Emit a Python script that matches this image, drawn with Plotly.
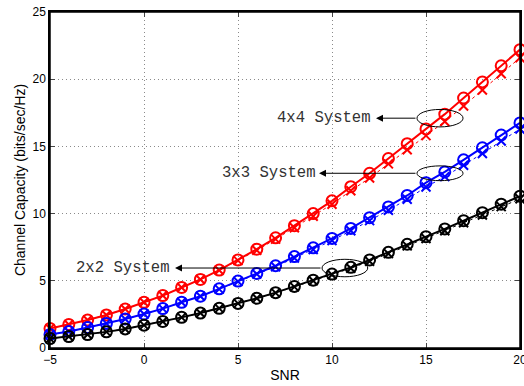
import plotly.graph_objects as go

snr = list(range(-5, 21))

cap_4x4 = [1.45, 1.75, 2.08, 2.46, 2.9, 3.4, 3.9, 4.5, 5.1, 5.8, 6.55, 7.35, 8.2, 9.1, 10.0,
           10.95, 12.0, 13.0, 14.1, 15.2, 16.3, 17.4, 18.6, 19.8, 21.0, 22.2]
cap_4x4_b = [1.45, 1.75, 2.08, 2.46, 2.9, 3.4, 3.9, 4.5, 5.1, 5.78, 6.5, 7.27, 8.1, 8.95, 9.8,
             10.7, 11.7, 12.65, 13.7, 14.75, 15.8, 16.85, 18.0, 19.2, 20.4, 21.6]
cap_3x3 = [1.0, 1.22, 1.52, 1.83, 2.16, 2.53, 2.93, 3.4, 3.85, 4.4, 4.98, 5.55, 6.12, 6.8, 7.45,
           8.15, 8.9, 9.7, 10.5, 11.35, 12.3, 13.1, 14.0, 14.9, 15.85, 16.75]
cap_3x3_b = [1.0, 1.22, 1.52, 1.83, 2.16, 2.53, 2.93, 3.4, 3.85, 4.38, 4.95, 5.5, 6.05, 6.7, 7.33,
             8.0, 8.72, 9.48, 10.25, 11.07, 11.98, 12.75, 13.6, 14.47, 15.4, 16.3]
cap_2x2 = [0.7, 0.85, 1.0, 1.2, 1.42, 1.7, 1.97, 2.28, 2.6, 2.95, 3.32, 3.7, 4.12, 4.58, 5.05,
           5.5, 6.0, 6.55, 7.12, 7.72, 8.28, 8.86, 9.47, 10.07, 10.7, 11.3]
cap_2x2_b = [0.7, 0.85, 1.0, 1.2, 1.42, 1.7, 1.97, 2.28, 2.6, 2.95, 3.32, 3.7, 4.1, 4.55, 5.0,
             5.45, 5.93, 6.46, 7.02, 7.6, 8.15, 8.72, 9.32, 9.9, 10.52, 11.1]

labels = ["4x4 System", "3x3 System", "2x2 System"]
colors = ["#ff0000", "#0000ff", "#000000"]
# (text x, text y, arrow head x, arrow tail x, ellipse x0, x1, y0, y1)
label_pos = [
    (9.6, 17.1, 12.34, 14.52, 14.52, 16.97, 16.45, 17.75),
    (6.65, 13.0, 9.31, 14.52, 14.52, 16.97, 12.45, 13.55),
    (-1.14, 5.95, 1.65, 9.47, 9.47, 11.9, 5.3, 6.6),
]

fig = go.Figure()

series = [(cap_4x4, cap_4x4_b), (cap_3x3, cap_3x3_b), (cap_2x2, cap_2x2_b)]
for (a, b), c in zip(series, colors):
    fig.add_trace(go.Scatter(x=snr, y=b, mode="lines+markers",
                             line=dict(color=c, width=1, dash="dot"),
                             marker=dict(symbol="x-thin-open", size=9, line=dict(color=c, width=2)),
                             showlegend=False, cliponaxis=False))
    fig.add_trace(go.Scatter(x=snr, y=a, mode="lines+markers",
                             line=dict(color=c, width=2),
                             marker=dict(symbol="circle-open", size=11, color=c, line=dict(color=c, width=2)),
                             showlegend=False, cliponaxis=False))

for lab, (tx, ty, hx, tailx, ex0, ex1, ey0, ey1) in zip(labels, label_pos):
    fig.add_annotation(x=tx, y=ty, text=lab, showarrow=False, xanchor="center", yanchor="middle",
                       font=dict(family="Liberation Mono, Courier New, monospace", size=15.6, color="#333333"))
    fig.add_annotation(x=hx, y=ty, ax=tailx, ay=ty, axref="x", ayref="y", text="",
                       showarrow=True, arrowhead=2, arrowsize=1.4, arrowwidth=1, arrowcolor="black")
    fig.add_shape(type="circle", x0=ex0, x1=ex1, y0=ey0, y1=ey1,
                  line=dict(color="black", width=1), xref="x", yref="y")

# plot frame
fig.add_shape(type="rect", xref="paper", yref="paper", x0=0, x1=1, y0=0, y1=1,
              line=dict(color="black", width=1.5), layer="above")

fig.update_layout(
    width=524, height=386,
    margin=dict(l=50, r=4, t=12, b=38, autoexpand=False),
    paper_bgcolor="white", plot_bgcolor="white",
    font=dict(family="Liberation Sans, Arial, sans-serif", size=12, color="black"),
)
grid = dict(showgrid=True, gridcolor="#8a8a8a", griddash="1px,3px", gridwidth=1, zeroline=False,
            ticks="inside", ticklen=5, showline=True, linecolor="black", linewidth=1.5, mirror="allticks",
            ticklabeloverflow="allow", automargin=False)
fig.update_xaxes(range=[-5, 20], tickvals=[-5, 0, 5, 10, 15, 20], **grid,
                 title=dict(text="SNR", font=dict(size=14), standoff=4))
fig.update_yaxes(range=[0, 25], tickvals=[0, 5, 10, 15, 20, 25], **grid,
                 title=dict(text="Channel Capacity (bits/sec/Hz)", font=dict(size=14), standoff=4))

fig.write_html("out.html", config={"displayModeBar": False},
               post_script="document.body.style.margin='0';document.body.style.overflow='hidden';")
